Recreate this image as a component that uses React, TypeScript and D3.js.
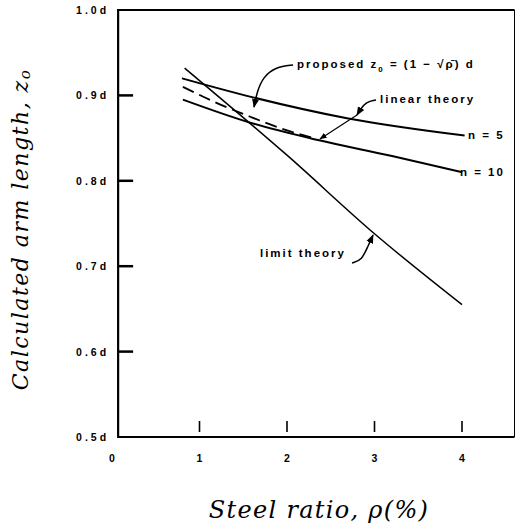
import React from 'react';
import * as d3 from 'd3';

// steel ratio (%) vs calculated arm length (fraction of d)
const rhoN5 = [0.8, 1.6, 2.7, 4.03];
const zN5 = [0.92, 0.898, 0.873, 0.853];
const rhoN10 = [0.81, 1.58, 2.34, 3.2, 4.0];
const zN10 = [0.895, 0.868, 0.848, 0.829, 0.81];
const rhoProposed = [0.81, 1.2, 1.58, 2.0, 2.34];
const zProposed = [0.91, 0.891, 0.875, 0.859, 0.849];
const rhoLimit = [0.83, 2.0, 3.0, 4.0];
const zLimit = [0.932, 0.83, 0.738, 0.655];

const xTicks = [0, 1, 2, 3, 4];
const yTicks = [0.5, 0.6, 0.7, 0.8, 0.9, 1.0];
const yTickLabels = ['0.5d', '0.6d', '0.7d', '0.8d', '0.9d', '1.0d'];

const W = 518;
const H = 527;

const x = d3.scaleLinear().domain([0, 4.6]).range([112, 514.5]);
const y = d3.scaleLinear().domain([0.5, 1.0]).range([437, 10]);
const frameLeft = 0.07;

type P = [number, number];
const zip = (a: number[], b: number[]): P[] => a.map((v, i) => [v, b[i]]);

const line = d3.line<P>().x(d => x(d[0])).y(d => y(d[1])).curve(d3.curveMonotoneX);
const leader = d3.line<P>().x(d => x(d[0])).y(d => y(d[1])).curve(d3.curveBasis);

// annotation leaders (data units)
const proposedLeader: P[] = [[2.069, 0.9356], [1.874, 0.9333], [1.726, 0.9215], [1.657, 0.904], [1.623, 0.8864]];
const linearLeader: P[] = [[3.017, 0.8946], [2.903, 0.8923], [2.834, 0.8829], [2.8, 0.877]];
const linearLeader2: P[] = [[2.8, 0.877], [2.377, 0.849]];
const limitLeader: P[] = [[2.743, 0.7037], [2.857, 0.7073], [2.926, 0.7237], [2.983, 0.7365]];

const labelFont = "'Liberation Sans', Arial, sans-serif";
const titleFont = "'DejaVu Serif', serif";

export default function App() {
  const left = x(frameLeft);
  const right = x(4.6);
  return (
    <svg width={W} height={H} style={{ position: 'absolute', left: 0, top: 0, background: '#fff' }}>
      <defs>
        <marker id="arr" viewBox="0 0 10 10" refX="9" refY="5" markerWidth="6" markerHeight="6" orient="auto">
          <path d="M0,1 L10,5 L0,9 z" fill="#000" />
        </marker>
      </defs>

      {/* frame */}
      <line x1={left} x2={right} y1={y(1.0)} y2={y(1.0)} stroke="#000" strokeWidth={2} />
      <line x1={right} x2={right} y1={y(1.0)} y2={y(0.5)} stroke="#000" strokeWidth={1} />
      <line x1={left} x2={left} y1={y(1.0) - 1} y2={y(0.5) + 1} stroke="#000" strokeWidth={2.2} />
      <line x1={left} x2={right} y1={y(0.5)} y2={y(0.5)} stroke="#000" strokeWidth={2.2} />

      {/* y ticks */}
      {yTicks.map((t, i) => (
        <g key={t}>
          {t > 0.5 && t < 1.0 && (
            <line x1={left} x2={left + 15} y1={y(t)} y2={y(t)} stroke="#000" strokeWidth={2.5} />
          )}
          <text x={left - 9} y={y(t) + 4} textAnchor="end" fontFamily={labelFont} fontWeight="bold"
            fontSize={10.5} letterSpacing={3}>{yTickLabels[i]}</text>
        </g>
      ))}

      {/* x ticks */}
      {xTicks.map(t => (
        <g key={t}>
          {t > 0 && (
            <line x1={x(t)} x2={x(t)} y1={y(0.5) - 16} y2={y(0.5) - 5} stroke="#000" strokeWidth={1.6} />
          )}
          <text x={x(t)} y={y(0.5) + 25} textAnchor="middle" fontFamily={labelFont} fontWeight="bold"
            fontSize={10.5}>{t}</text>
        </g>
      ))}

      {/* curves */}
      <path d={line(zip(rhoN5, zN5)) || ''} fill="none" stroke="#000" strokeWidth={2} />
      <path d={line(zip(rhoN10, zN10)) || ''} fill="none" stroke="#000" strokeWidth={2} />
      <path d={line(zip(rhoProposed, zProposed)) || ''} fill="none" stroke="#000" strokeWidth={1.8}
        strokeDasharray="12,6" />
      <path d={line(zip(rhoLimit, zLimit)) || ''} fill="none" stroke="#000" strokeWidth={1.5} />

      {/* leaders */}
      <path d={leader(proposedLeader) || ''} fill="none" stroke="#000" strokeWidth={1.5} markerEnd="url(#arr)" />
      <path d={leader(linearLeader) || ''} fill="none" stroke="#000" strokeWidth={1.5} markerEnd="url(#arr)" />
      <path d={leader(linearLeader2) || ''} fill="none" stroke="#000" strokeWidth={1.2} markerEnd="url(#arr)" />
      <path d={leader(limitLeader) || ''} fill="none" stroke="#000" strokeWidth={1.5} markerEnd="url(#arr)" />

      {/* labels */}
      <g fontFamily={labelFont} fontWeight="bold" fontSize={11.5} letterSpacing={2}>
        <text x={x(2.114)} y={y(0.932)}>
          proposed{'  '}z<tspan fontSize={8} dy={4}>0</tspan><tspan dy={-4}> = (1 − √ρ̄) d</tspan>
        </text>
        <text x={x(3.063)} y={y(0.891)}>linear theory</text>
        <text x={x(4.069)} y={y(0.849)}>n = 5</text>
        <text x={x(3.977)} y={y(0.8056)}>n = 10</text>
        <text x={x(1.691)} y={y(0.711)}>limit theory</text>
      </g>

      {/* axis titles */}
      <text transform={`translate(28,${(y(0.5) + y(1.0)) / 2 + 6}) rotate(-90)`} textAnchor="middle"
        fontFamily={titleFont} fontStyle="italic" fontSize={22} letterSpacing={1.5}>
        Calculated arm length, z<tspan fontSize={15} dy={2}>o</tspan>
      </text>
      <text x={319} y={518} textAnchor="middle" fontFamily={titleFont} fontStyle="italic" fontSize={24}
        letterSpacing={1.3}>
        Steel ratio, ρ(%)
      </text>
    </svg>
  );
}
